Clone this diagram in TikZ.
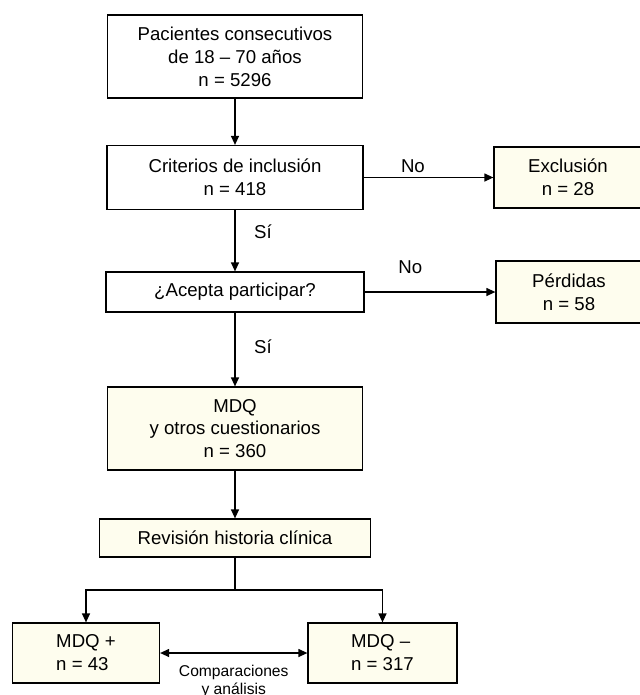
\documentclass[tikz,border=0pt]{standalone}
\usepackage{fontspec}
\setmainfont{Liberation Sans}
\usetikzlibrary{arrows.meta}
\definecolor{crema}{RGB}{254,253,238}

\begin{document}
\begin{tikzpicture}[
	caja/.style={draw, line width=0.7pt, inner sep=0pt, align=center, font=\fontsize{10.6}{13}\selectfont},
	cajacrema/.style={caja, fill=crema},
	flecha/.style={line width=0.7pt, -{Triangle[length=0.18cm,width=0.16cm]}},
	doble/.style={line width=0.7pt, {Triangle[length=0.18cm,width=0.16cm]}-{Triangle[length=0.18cm,width=0.16cm]}},
	rotulo/.style={inner sep=0pt, font=\fontsize{10.6}{13}\selectfont}
	]
			%%%%% START %%%%%
			
			\useasboundingbox (0,0) rectangle (12.8,-13.9);
			
			\node[caja, minimum width=5.10cm, minimum height=1.66cm] (pac) at (4.70,-1.13) {Pacientes consecutivos\\de 18 – 70 años\\n = 5296};
			\node[caja, minimum width=5.12cm, minimum height=1.28cm] (crit) at (4.70,-3.55) {Criterios de inclusión\\n = 418};
			\node[cajacrema, minimum width=2.96cm, minimum height=1.22cm] (excl) at (11.36,-3.55) {Exclusión\\n = 28};
			
			\node[caja, minimum width=5.16cm, minimum height=0.80cm] (acep) at (4.70,-5.84) {¿Acepta participar?};
			\node[cajacrema, minimum width=2.92cm, minimum height=1.24cm] (perd) at (11.38,-5.84) {Pérdidas\\n = 58};
			
			\node[cajacrema, minimum width=5.10cm, minimum height=1.66cm] (mdq) at (4.70,-8.57) {MDQ\\y otros cuestionarios\\n = 360};
			\node[cajacrema, minimum width=5.42cm, minimum height=0.76cm] (rev) at (4.70,-10.76) {Revisión historia clínica};
			
			\node[cajacrema, align=left, minimum width=2.94cm, minimum height=1.20cm] (mdqp) at (1.72,-13.06) {MDQ +\\n = 43};
			\node[cajacrema, align=left, minimum width=2.98cm, minimum height=1.20cm] (mdqm) at (7.65,-13.06) {MDQ –\\n = 317};
			
			\coordinate (rama) at (4.70,-11.80);
			
			\draw[flecha] (pac) -- (crit);
			\draw[flecha] (crit) -- node[rotulo, pos=0.38, yshift=0.22cm] {No} (excl);
			\draw[flecha] (crit) -- node[rotulo, pos=0.35, xshift=0.56cm] {Sí} (acep);
			\draw[flecha] (acep) -- node[rotulo, pos=0.35, yshift=0.50cm] {No} (perd);
			\draw[flecha] (acep) -- node[rotulo, pos=0.46, xshift=0.56cm] {Sí} (mdq);
			\draw[flecha] (mdq) -- (rev);
			
			\draw[line width=0.7pt] (rev.south) -- (rama);
			\draw[flecha] (rama) -| (mdqp.north);
			\draw[flecha] (rama) -| (mdqm.north);
			
			\draw[doble] (mdqp) -- node[midway, yshift=-0.56cm, align=center, inner sep=0pt, font=\fontsize{8.9}{10.2}\selectfont] {Comparaciones\\y análisis} (mdqm);
			
			%%%%% END %%%%%
\end{tikzpicture}
\end{document}
